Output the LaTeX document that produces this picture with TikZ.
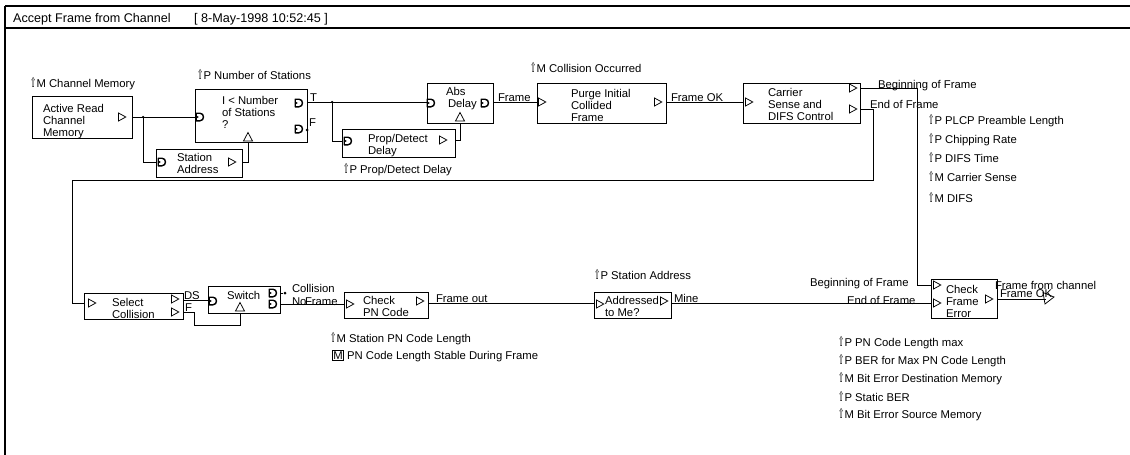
\documentclass[tikz,border=0pt]{standalone}
\usepackage{graphicx}
\usepackage{fontspec}
\setmainfont{Liberation Sans}
\newfontfamily\symf{DejaVu Sans}
\newcommand\myfont{\fontsize{11.3}{12}\selectfont}
\newcommand\ttlfont{\fontsize{12.6}{14}\selectfont}
\newcommand\uarr{\raisebox{-0.3pt}{\scalebox{0.62}[1.12]{\symf\fontsize{12}{12}\selectfont ⇧}}\kern0.3pt}
\newcommand\boxm{{\setlength\fboxsep{0.6pt}\setlength\fboxrule{0.7pt}\fbox{M}}}
\begin{document}
\begin{tikzpicture}[x=1pt,y=-1pt,
  blk/.style={draw, line width=0.8pt, anchor=north west, inner sep=0pt, outer sep=0pt},
  txt/.style={anchor=base west, inner sep=0pt, outer sep=0pt, font=\myfont},
  mtxt/.style={anchor=north west, inner sep=0pt, outer sep=0pt, align=left, font=\myfont},
  wire/.style={line width=0.7pt},
  frm/.style={line width=1.2pt},
  tri/.pic={\draw[line width=0.75pt] (-3.5,-4)--(3.8,0)--(-3.5,4)--cycle;},
  uptri/.pic={\draw[line width=0.75pt] (-4.5,4)--(0,-4.5)--(4.5,4)--cycle;},
  dport/.pic={\draw[line width=1.4pt, line join=round] (-3.8,-3.8)--(0,-3.8) .. controls (4.6,-3.8) and (4.6,3.8) .. (0,3.8)--(-3.8,3.8)--cycle;
              \fill (-3.8,-1.6)--(-1.2,0)--(-3.8,1.6)--cycle;},
  dot/.style={circle, fill, inner sep=0pt, minimum size=3pt}
]
\useasboundingbox (0,0) rectangle (1130,455);
% frame
\coordinate (f1) at (5,6); \coordinate (f2) at (1130,6);
\coordinate (f3) at (5,28); \coordinate (f4) at (1130,28);
\coordinate (f5) at (5,455);
\draw[frm] (f1) -- (f2);
\draw[frm] (f3) -- (f4);
\draw[frm] (f1) -- (f5);
\node[anchor=base west, inner sep=0pt, font=\ttlfont] (title) at (13,23) {Accept Frame from Channel};
\node[anchor=base west, inner sep=0pt, font=\ttlfont] (date) at (194,23) {[ 8-May-1998 10:52:45 ]};

% boxes
\node[blk, minimum width=100pt, minimum height=42pt] (arc) at (32,96) {};
\node[blk, minimum width=112pt, minimum height=53pt] (nos) at (195,89) {};
\node[blk, minimum width=86pt, minimum height=28pt] (sa) at (156,149) {};
\node[blk, minimum width=66pt, minimum height=40pt] (abs) at (427,83) {};
\node[blk, minimum width=113pt, minimum height=28pt] (pdd) at (342,129) {};
\node[blk, minimum width=129pt, minimum height=40pt] (purge) at (537,83) {};
\node[blk, minimum width=117pt, minimum height=40pt] (csd) at (743,83) {};
\node[blk, minimum width=99pt, minimum height=26pt] (sel) at (84,293) {};
\node[blk, minimum width=72pt, minimum height=27pt] (sw) at (208,286) {};
\node[blk, minimum width=84pt, minimum height=26pt] (cpn) at (344,292) {};
\node[blk, minimum width=77pt, minimum height=26pt] (atm) at (594,292) {};
\node[blk, minimum width=66pt, minimum height=39pt] (cfe) at (931,279) {};

% box texts
\node[mtxt] (arcT) at (43,104) {Active Read\\Channel\\Memory};
\node[mtxt] (nosT) at (222,96) {I < Number\\of Stations\\?};
\node[mtxt] (saT) at (177,153) {Station\\Address};
\node[mtxt] (absT) at (446,87) {Abs\\\hspace*{2pt}Delay};
\node[mtxt] (pddT) at (368,134) {Prop/Detect\\Delay};
\node[mtxt] (purgeT) at (571,89) {Purge Initial\\Collided\\Frame};
\node[mtxt] (csdT) at (768,88) {Carrier\\Sense and\\DIFS Control};
\node[mtxt] (selT) at (112,298) {Select\\Collision};
\node[txt] (swT) at (227,299) {Switch};
\node[mtxt] (cpnT) at (363,296) {Check\\PN Code};
\node[mtxt] (atmT) at (605,296) {Addressed\\to Me?};
\node[mtxt] (cfeT) at (946,285) {Check\\Frame\\Error};

% ports
\pic at (122,117) {tri};
\pic at (200,117) {dport};
\pic at (299,103) {dport};
\pic at (299,129) {dport};
\pic at (248,137) {uptri};
\pic at (162,162) {dport};
\pic at (232,162) {tri};
\pic at (431,103) {dport};
\pic at (485,103) {dport};
\pic at (460,117) {uptri};
\pic at (348,141) {dport};
\pic at (443,140) {tri};
\pic at (542,102) {tri};
\pic at (658,102) {tri};
\pic at (749,102) {tri};
\pic at (853,88) {tri};
\pic at (853,109) {tri};
\pic at (92,303) {tri};
\pic at (175,299) {tri};
\pic at (175,312) {tri};
\pic at (213,301) {dport};
\pic at (273,293) {dport};
\pic at (273,304) {dport};
\pic at (240,307) {uptri};
\pic at (350,304) {tri};
\pic at (420,301) {tri};
\pic at (600,304) {tri};
\pic at (664,301) {tri};
\pic at (937,285) {tri};
\pic at (937,303) {tri};
\pic at (989,299) {tri};

% connector coordinates
\coordinate (arcO) at (132,117);
\coordinate (nosI) at (195,117);
\coordinate (j1) at (143,117);
\coordinate (j1b) at (143,162);
\coordinate (saI) at (156,162);
\coordinate (saO) at (242,162);
\coordinate (saOb) at (248,162);
\coordinate (nosB) at (248,142);
\coordinate (nosT) at (307,102);
\coordinate (absI) at (427,102);
\coordinate (j2) at (332,102);
\coordinate (j2b) at (332,141);
\coordinate (pddI) at (342,141);
\coordinate (nosF) at (307,130);
\coordinate (pddO) at (455,140);
\coordinate (pddOb) at (460,140);
\coordinate (absB) at (460,123);
\coordinate (absO) at (493,102);
\coordinate (purgeI) at (537,102);
\coordinate (purgeO) at (666,102);
\coordinate (csdI) at (743,102);
\coordinate (csdO1) at (860,88);
\coordinate (b1) at (917,88);
\coordinate (b2) at (917,285);
\coordinate (cfeI1) at (931,285);
\coordinate (csdO2) at (860,109);
\coordinate (e1) at (873,109);
\coordinate (e2) at (873,180);
\coordinate (e3) at (72,180);
\coordinate (e4) at (72,303);
\coordinate (selI) at (84,303);
\coordinate (selO1) at (183,300);
\coordinate (swI) at (208,300);
\coordinate (selO2) at (183,312);
\coordinate (g1) at (194,312);
\coordinate (g2) at (194,325);
\coordinate (g3) at (240,325);
\coordinate (swB) at (240,313);
\coordinate (swO1) at (280,293);
\coordinate (swO2) at (280,304);
\coordinate (cpnI) at (344,304);
\coordinate (cpnO) at (428,303);
\coordinate (atmI) at (594,303);
\coordinate (atmO) at (671,303);
\coordinate (cfeI2) at (931,303);
\coordinate (cfeO) at (997,299);
\coordinate (outE) at (1046,299);

% wires
\draw[wire] (arcO) -- (nosI);
\draw[wire] (j1) -- (j1b) -- (saI);
\node[dot, minimum size=2.5pt] (jd1) at (j1) {};
\draw[wire] (saO) -- (saOb) -- (nosB);
\draw[wire] (nosT) -- (absI);
\draw[wire] (j2) -- (j2b) -- (pddI);
\node[dot, minimum size=2.5pt] (jd2) at (j2) {};
\node[dot] (fdot) at (nosF) {};
\draw[wire] (pddO) -- (pddOb) -- (absB);
\draw[wire] (absO) -- (purgeI);
\draw[wire] (purgeO) -- (csdI);
\draw[wire] (csdO1) -- (b1) -- (b2) -- (cfeI1);
\draw[wire] (csdO2) -- (e1) -- (e2) -- (e3) -- (e4) -- (selI);
\draw[wire] (selO1) -- (swI);
\draw[wire] (selO2) -- (g1) -- (g2) -- (g3) -- (swB);
\node[dot] (cdot) at (285,293) {};
\draw[wire] (swO1) -- (cdot);
\draw[wire] (swO2) -- (cpnI);
\draw[wire] (cpnO) -- (atmI);
\draw[wire] (atmO) -- (cfeI2);
\draw[wire] (cfeO) -- (outE);
\draw[line width=0.75pt] (1043,292.5) -- (1054,297) -- (1045,304) -- cycle;

% wire labels
\node[txt] (lT) at (310,101) {T};
\node[txt] (lF) at (309,126) {F};
\node[txt] (lFrame) at (498,101) {Frame};
\node[txt] (lFOK) at (671,101) {Frame OK};
\node[txt] (lBoF) at (878,88) {Beginning of Frame};
\node[txt] (lEoF) at (870,108) {End of Frame};
\node[txt] (lDS) at (184,299) {DS};
\node[txt] (lF2) at (185,311) {F};
\node[txt] (lColl) at (292,292) {Collision};
\node[txt] (lNoC) at (292,305) {No};
\node[txt] (lFin) at (305,305) {Frame};
\node[txt] (lFout) at (436,302) {Frame out};
\node[txt] (lMine) at (674,302) {Mine};
\node[txt] (lBoF2) at (810,286) {Beginning of Frame};
\node[txt] (lEoF2) at (847,304) {End of Frame};
\node[txt] (lFfc) at (995,289) {Frame from channel};
\node[txt] (lFOK2) at (1000,297) {Frame OK};

% parameter / memory labels
\node[txt] (pCM) at (30,87) {\uarr M Channel Memory};
\node[txt] (pNoS) at (197,79) {\uarr P Number of Stations};
\node[txt] (pPDD) at (343,173) {\uarr P Prop/Detect Delay};
\node[txt] (pCO) at (530,72) {\uarr M Collision Occurred};
\node[txt] (pPLCP) at (928,124) {\uarr P PLCP Preamble Length};
\node[txt] (pCR) at (928,143) {\uarr P Chipping Rate};
\node[txt] (pDT) at (928,162) {\uarr P DIFS Time};
\node[txt] (pCS) at (928,181) {\uarr M Carrier Sense};
\node[txt] (pDIFS) at (928,202) {\uarr M DIFS};
\node[txt] (pSA) at (594,279) {\uarr P Station Address};
\node[txt] (pSPN) at (330,342) {\uarr M Station PN Code Length};
\node[txt] (pPNS) at (332,359) {\boxm\ PN Code Length Stable During Frame};
\node[txt] (pPNmax) at (838,346) {\uarr P PN Code Length max};
\node[txt] (pBER) at (838,364) {\uarr P BER for Max PN Code Length};
\node[txt] (pBED) at (838,382) {\uarr M Bit Error Destination Memory};
\node[txt] (pSB) at (838,401) {\uarr P Static BER};
\node[txt] (pBES) at (838,418) {\uarr M Bit Error Source Memory};
\end{tikzpicture}
\end{document}
